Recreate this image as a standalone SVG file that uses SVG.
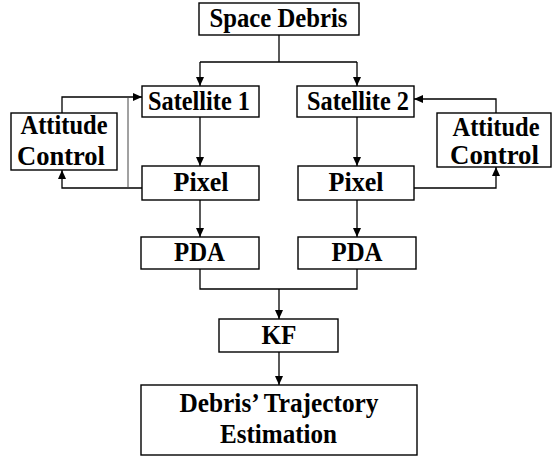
<svg xmlns="http://www.w3.org/2000/svg" width="552" height="457" viewBox="0 0 552 457">
  <style>
    .box { fill: #ffffff; stroke: #000000; stroke-width: 1.4; }
    .lbl { font-family: "Liberation Serif", "Times New Roman", serif; font-weight: bold; font-size: 27px; fill: #000000; text-anchor: middle; }
    .wire { fill: none; stroke: #000000; stroke-width: 1.3; }
    .wire-thin { fill: none; stroke: #444444; stroke-width: 1; }
  </style>
  <defs>
    <marker id="arrow" markerWidth="10" markerHeight="8" refX="9" refY="4" orient="auto" markerUnits="userSpaceOnUse">
      <path d="M0,0 L9,4 L0,8 Z" fill="#000000"/>
    </marker>
  </defs>
  <rect width="552" height="457" fill="#ffffff"/>

  <g id="connectors">
    <!-- Space Debris fan-out to both satellites -->
    <path class="wire" d="M279,35 V62"/>
    <path class="wire" d="M200,62 H357"/>
    <path class="wire" d="M200,62 V86" marker-end="url(#arrow)"/>
    <path class="wire" d="M357,62 V86" marker-end="url(#arrow)"/>
    <!-- Satellite to Pixel -->
    <path class="wire" d="M200,117 V166" marker-end="url(#arrow)"/>
    <path class="wire" d="M357,117 V166" marker-end="url(#arrow)"/>
    <!-- Left attitude loop -->
    <path class="wire" d="M142,188 H62 V170" marker-end="url(#arrow)"/>
    <path class="wire" d="M62,113 V97 H142" marker-end="url(#arrow)"/>
    <path class="wire-thin" d="M128,188 V97"/>
    <!-- Right attitude loop -->
    <path class="wire" d="M414,188 H496 V167" marker-end="url(#arrow)"/>
    <path class="wire" d="M496,113 V99 H414" marker-end="url(#arrow)"/>
    <!-- Pixel to PDA -->
    <path class="wire" d="M200,200 V237" marker-end="url(#arrow)"/>
    <path class="wire" d="M357,200 V237" marker-end="url(#arrow)"/>
    <!-- PDA merge to KF -->
    <path class="wire" d="M200,269 V289 H357 V269"/>
    <path class="wire" d="M279,289 V319" marker-end="url(#arrow)"/>
    <!-- KF to estimation -->
    <path class="wire" d="M279,352 V385" marker-end="url(#arrow)"/>
  </g>

  <g id="space-debris">
    <rect class="box" x="199" y="3" width="160" height="32"/>
    <text class="lbl" x="278.5" y="27" textLength="138" lengthAdjust="spacingAndGlyphs">Space Debris</text>
  </g>

  <g id="satellite-1">
    <rect class="box" x="142" y="86" width="117" height="31"/>
    <text class="lbl" x="199" y="109.5" textLength="102" lengthAdjust="spacingAndGlyphs">Satellite 1</text>
  </g>

  <g id="satellite-2">
    <rect class="box" x="297" y="86" width="117" height="31"/>
    <text class="lbl" x="358" y="109.5" textLength="102" lengthAdjust="spacingAndGlyphs">Satellite 2</text>
  </g>

  <g id="attitude-control-1">
    <rect class="box" x="11" y="113" width="106" height="57"/>
    <text class="lbl" x="64" y="134" textLength="87" lengthAdjust="spacingAndGlyphs">Attitude</text>
    <text class="lbl" x="61" y="165" textLength="88" lengthAdjust="spacingAndGlyphs">Control</text>
  </g>

  <g id="attitude-control-2">
    <rect class="box" x="437" y="113" width="114" height="54"/>
    <text class="lbl" x="496" y="136" textLength="87" lengthAdjust="spacingAndGlyphs">Attitude</text>
    <text class="lbl" x="494.5" y="164" textLength="89" lengthAdjust="spacingAndGlyphs">Control</text>
  </g>

  <g id="pixel-1">
    <rect class="box" x="142" y="166" width="117" height="34"/>
    <text class="lbl" x="201" y="191" textLength="55" lengthAdjust="spacingAndGlyphs">Pixel</text>
  </g>

  <g id="pixel-2">
    <rect class="box" x="298" y="166" width="116" height="34"/>
    <text class="lbl" x="356" y="191" textLength="55" lengthAdjust="spacingAndGlyphs">Pixel</text>
  </g>

  <g id="pda-1">
    <rect class="box" x="141" y="237" width="118" height="32"/>
    <text class="lbl" x="199.5" y="261" textLength="51" lengthAdjust="spacingAndGlyphs">PDA</text>
  </g>

  <g id="pda-2">
    <rect class="box" x="298" y="237" width="118" height="32"/>
    <text class="lbl" x="357" y="261" textLength="51" lengthAdjust="spacingAndGlyphs">PDA</text>
  </g>

  <g id="kf">
    <rect class="box" x="219" y="319" width="119" height="33"/>
    <text class="lbl" x="279" y="343.5" textLength="35" lengthAdjust="spacingAndGlyphs">KF</text>
  </g>

  <g id="trajectory-estimation">
    <rect class="box" x="141" y="385" width="276" height="70"/>
    <text class="lbl" x="279" y="412" textLength="199" lengthAdjust="spacingAndGlyphs">Debris’ Trajectory</text>
    <text class="lbl" x="278.5" y="443" textLength="117" lengthAdjust="spacingAndGlyphs">Estimation</text>
  </g>
</svg>
